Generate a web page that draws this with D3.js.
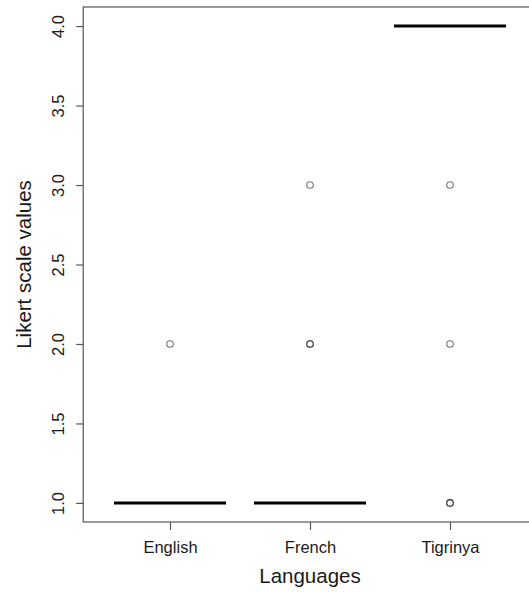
<!DOCTYPE html>
<html>
<head>
<meta charset="utf-8">
<script src="https://cdn.jsdelivr.net/npm/d3@7"></script>
<style>
  html, body { margin: 0; padding: 0; background: #fff; }
  svg { display: block; font-family: "Liberation Sans", Arial, Helvetica, sans-serif; }
</style>
</head>
<body>
<svg id="chart" width="529" height="592"></svg>
<script>
// Likert responses per language: medians and the outlying responses
const languages = ["English", "French", "Tigrinya"];
const medians = [1, 1, 4];
const outliers = [[2], [3, 2, 2], [3, 2, 1, 1]];
const yTicks = [1.0, 1.5, 2.0, 2.5, 3.0, 3.5, 4.0];

const svg = d3.select("#chart");
const plotLeft = 83.2, plotRight = 536.8, plotTop = 7, plotBottom = 522;

const x = d3.scaleLinear().domain([0.38, 3.62]).range([plotLeft, plotRight]);
const y = d3.scaleLinear().domain([0.88, 4.12]).range([plotBottom, plotTop]);

const textColor = "#1a1a1a";
const axisColor = "#555";

// plot frame
svg.append("rect")
  .attr("x", plotLeft).attr("y", plotTop)
  .attr("width", plotRight - plotLeft).attr("height", plotBottom - plotTop)
  .attr("fill", "none").attr("stroke", axisColor).attr("stroke-width", 1.2);

// y axis
const yAxis = svg.append("g")
  .attr("transform", `translate(${plotLeft},0)`)
  .call(d3.axisLeft(y).tickValues(yTicks).tickSize(7).tickFormat(d3.format(".1f")));
yAxis.select(".domain").remove();
yAxis.selectAll(".tick line").attr("stroke", axisColor).attr("stroke-width", 1.2);
yAxis.selectAll(".tick text")
  .attr("x", null).attr("dy", null)
  .attr("transform", "translate(-19,0) rotate(-90)")
  .attr("text-anchor", "middle")
  .attr("fill", textColor)
  .style("font-size", "16.5px");

// x axis
const xAxis = svg.append("g")
  .attr("transform", `translate(0,${plotBottom})`)
  .call(d3.axisBottom(x).tickValues([1, 2, 3]).tickSize(8)
    .tickFormat((d, i) => languages[i]));
xAxis.select(".domain").remove();
xAxis.selectAll(".tick line").attr("stroke", axisColor).attr("stroke-width", 1.2);
xAxis.selectAll(".tick text")
  .attr("y", 31).attr("dy", null)
  .attr("fill", textColor)
  .style("font-size", "16.5px");

// axis titles
svg.append("text")
  .attr("transform", `translate(31,${(plotTop + plotBottom) / 2}) rotate(-90)`)
  .attr("text-anchor", "middle")
  .attr("fill", textColor)
  .style("font-size", "20.5px")
  .text("Likert scale values");

svg.append("text")
  .attr("x", (plotLeft + plotRight) / 2).attr("y", 583)
  .attr("text-anchor", "middle")
  .attr("fill", textColor)
  .style("font-size", "20.5px")
  .text("Languages");

// medians (boxes collapse onto them)
const halfWidth = 0.4;
svg.append("g").selectAll("line")
  .data(medians)
  .join("line")
  .attr("x1", (d, i) => x(i + 1 - halfWidth))
  .attr("x2", (d, i) => x(i + 1 + halfWidth))
  .attr("y1", d => y(d)).attr("y2", d => y(d))
  .attr("stroke", "#000").attr("stroke-width", 3);

// outlying responses
const pts = outliers.flatMap((vals, i) => vals.map(v => ({ i, v })));
svg.append("g").selectAll("circle")
  .data(pts)
  .join("circle")
  .attr("cx", d => x(d.i + 1))
  .attr("cy", d => y(d.v))
  .attr("r", 3.3)
  .attr("fill", "none")
  .attr("stroke", "#000")
  .attr("stroke-opacity", 0.55)
  .attr("stroke-width", 1.1);
</script>
</body>
</html>
